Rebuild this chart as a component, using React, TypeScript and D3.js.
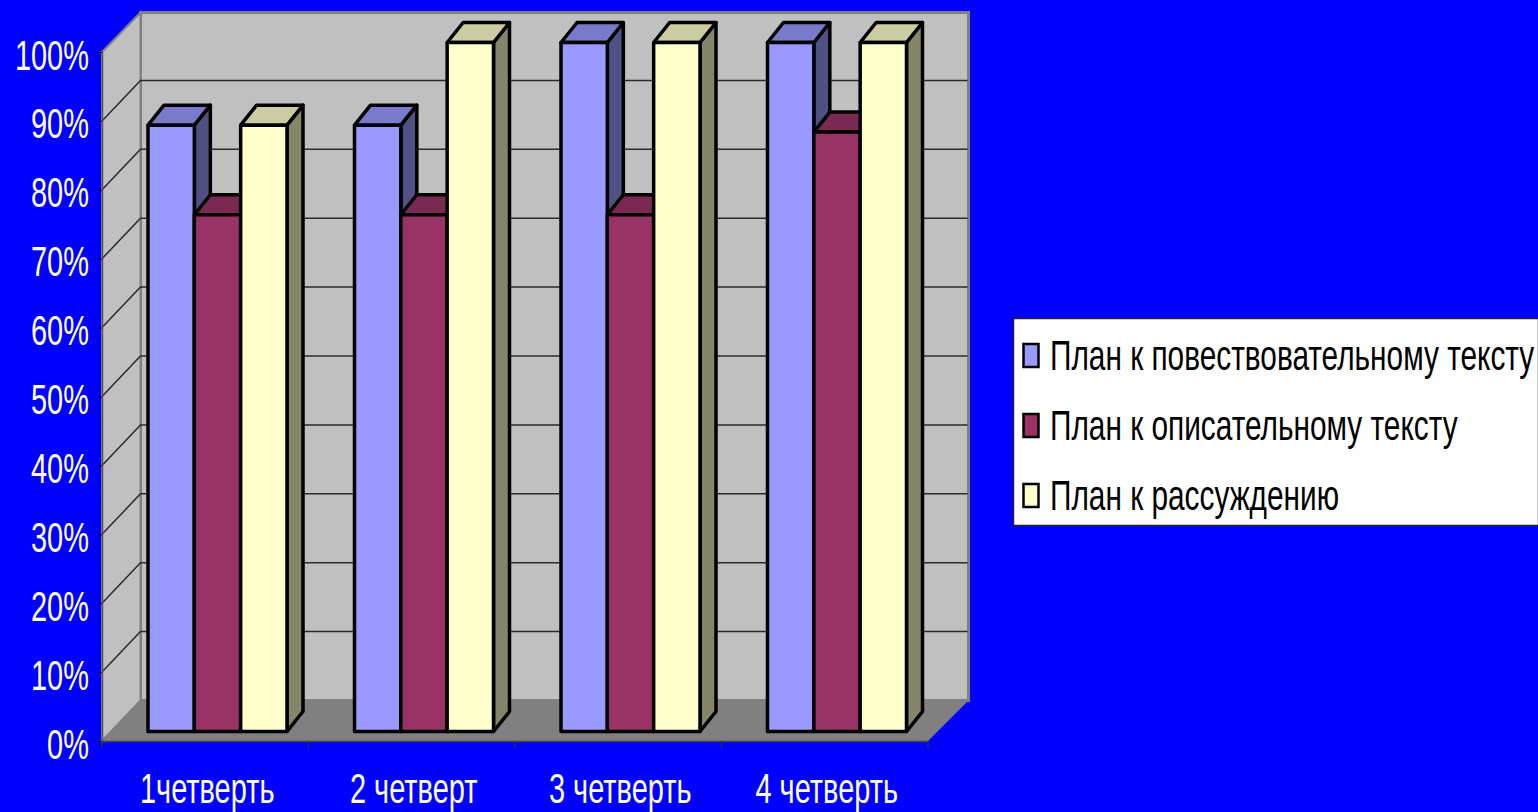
import { useEffect, useRef } from 'react';
import * as d3 from 'd3';

const categories = ['1четверть', '2 четверт', '3 четверть', '4 четверть'];
const seriesNames = [
  'План к повествовательному тексту',
  'План к описательному тексту',
  'План к рассуждению',
];
const narrative = [88, 88, 100, 100];
const descriptive = [75, 75, 75, 87];
const reasoning = [88, 100, 100, 100];
const seriesValues = [narrative, descriptive, reasoning];
const seriesColors = ['#9999ff', '#993366', '#ffffcc'];
const yTicks = [0, 10, 20, 30, 40, 50, 60, 70, 80, 90, 100];

const width = 1538;
const height = 812;
const FONT = '"Liberation Sans", Arial, sans-serif';
const TEXT_SQUEEZE = 0.69;
const LEGEND_SQUEEZE = 0.71;

const shade = (color: string, k: number) => {
  const c = d3.rgb(color);
  return d3.rgb(c.r * k, c.g * k, c.b * k).formatHex();
};

export default function App() {
  const svgRef = useRef<SVGSVGElement>(null);

  useEffect(() => {
    if (!svgRef.current) return;
    const svg = d3.select(svgRef.current);
    svg.selectAll('*').remove();

    const left = 102;
    const right = 928;
    const wallDx = 38.5;
    const wallDy = -40.5;

    const yScale = d3.scaleLinear().domain([0, 100]).range([741, 52]);
    const xScale = d3.scaleBand().domain(categories).range([left, right]);
    const xInner = d3
      .scaleBand()
      .domain(seriesNames)
      .range([0, 139]);

    const y0 = yScale(0);
    const y100 = yScale(100);
    const poly = (pts: number[][]) => pts.map((p) => p.join(',')).join(' ');

    // walls and floor
    svg
      .append('polygon')
      .attr('points', poly([
        [left + wallDx, y100 + wallDy + 1],
        [right + wallDx + 2, y100 + wallDy + 1],
        [right + wallDx + 2, y0 + wallDy],
        [left + wallDx, y0 + wallDy],
      ]))
      .attr('fill', '#c0c0c0')
      .attr('stroke', '#808080')
      .attr('stroke-width', 3);

    svg
      .append('polygon')
      .attr('points', poly([
        [left, y100],
        [left + wallDx, y100 + wallDy + 1],
        [left + wallDx, y0 + wallDy],
        [left, y0],
      ]))
      .attr('fill', '#c0c0c0')
      .attr('stroke', '#808080')
      .attr('stroke-width', 2);

    svg
      .append('polygon')
      .attr('points', poly([
        [left, y0],
        [right, y0],
        [right + wallDx + 2, y0 + wallDy],
        [left + wallDx, y0 + wallDy],
      ]))
      .attr('fill', '#808080');

    // grid lines over both walls
    const grid = yTicks.filter((t) => t > 0 && t < 100);
    svg
      .append('g')
      .selectAll('polyline')
      .data(grid)
      .enter()
      .append('polyline')
      .attr('points', (d) =>
        poly([
          [left, yScale(d)],
          [left + wallDx, yScale(d) + wallDy],
          [right + wallDx + 1, yScale(d) + wallDy],
        ]),
      )
      .attr('fill', 'none')
      .attr('stroke', '#2b2b2b')
      .attr('stroke-width', 1.5);

    // axes
    const yAxis = svg
      .append('g')
      .attr('transform', `translate(${left}, 0)`)
      .call(
        d3
          .axisLeft(yScale)
          .tickValues(yTicks)
          .tickSize(4)
          .tickFormat((d) => `${d}%`),
      );
    yAxis.select('.domain').attr('stroke', '#555').attr('stroke-width', 1.5);
    yAxis
      .selectAll('text')
      .attr('x', -13 / TEXT_SQUEEZE)
      .attr('dy', 17)
      .attr('transform', `scale(${TEXT_SQUEEZE}, 1)`)
      .attr('fill', '#fff')
      .attr('font-family', FONT)
      .attr('font-size', 42);

    const xAxis = svg
      .append('g')
      .attr('transform', `translate(0, ${y0})`)
      .call(d3.axisBottom(xScale).tickSize(0));
    xAxis.select('.domain').attr('stroke', '#444').attr('stroke-width', 1.5);
    xAxis
      .selectAll('text')
      .attr('y', 62)
      .attr('dy', 0)
      .attr('transform', `scale(${TEXT_SQUEEZE}, 1)`)
      .attr('fill', '#fff')
      .attr('font-family', FONT)
      .attr('font-size', 42);
    xAxis.selectAll('.tick').each(function (d) {
      const x = (xScale(d as string) ?? 0) + xScale.bandwidth() / 2;
      d3.select(this).attr('transform', `translate(0, 0)`);
      d3.select(this).select('text').attr('x', (x + 2) / TEXT_SQUEEZE);
    });
    xAxis
      .selectAll('line.edge')
      .data([...categories.map((c) => xScale(c) as number), right])
      .enter()
      .append('line')
      .attr('class', 'edge')
      .attr('x1', (d) => d)
      .attr('x2', (d) => d)
      .attr('y1', 0)
      .attr('y2', 7)
      .attr('stroke', '#333')
      .attr('stroke-width', 1.2);

    // bars, drawn left to right so each hides the side of the one before
    const barShiftX = 46;
    const barShiftY = -9.5;
    const depthX = 16;
    const depthY = -20;
    const barW = xInner.bandwidth();
    const barsLayer = svg
      .append('g')
      .attr('stroke', '#000')
      .attr('stroke-width', 3.5)
      .attr('stroke-linejoin', 'round');

    categories.forEach((cat, ci) => {
      seriesNames.forEach((name, si) => {
        const value = seriesValues[si][ci];
        const x = (xScale(cat) as number) + barShiftX + (xInner(name) as number);
        const top = yScale(value) + barShiftY;
        const bottom = y0 + barShiftY;
        // side face
        barsLayer
          .append('polygon')
          .attr('points', poly([
            [x + barW, top],
            [x + barW + depthX, top + depthY],
            [x + barW + depthX, bottom + depthY],
            [x + barW, bottom],
          ]))
          .attr('fill', shade(seriesColors[si], 0.52));
        // top face
        barsLayer
          .append('polygon')
          .attr('points', poly([
            [x, top],
            [x + depthX, top + depthY],
            [x + barW + depthX, top + depthY],
            [x + barW, top],
          ]))
          .attr('fill', shade(seriesColors[si], 0.8));
        // front face
        barsLayer
          .append('rect')
          .attr('x', x)
          .attr('y', top)
          .attr('width', barW)
          .attr('height', bottom - top)
          .attr('fill', seriesColors[si]);
      });
    });

    // legend
    const legend = svg.append('g').attr('transform', 'translate(1013.5, 318.5)');
    legend
      .append('rect')
      .attr('width', width - 1013)
      .attr('height', 207)
      .attr('fill', '#fff')
      .attr('stroke', '#222')
      .attr('stroke-width', 1.5);
    const legendRow = d3
      .scalePoint()
      .domain(seriesNames)
      .range([37, 177]);
    seriesNames.forEach((name, i) => {
      const cy = legendRow(name) as number;
      legend
        .append('rect')
        .attr('x', 10)
        .attr('y', cy - 11.5)
        .attr('width', 15)
        .attr('height', 23)
        .attr('fill', seriesColors[i])
        .attr('stroke', '#000')
        .attr('stroke-width', 2.5);
      legend
        .append('text')
        .attr('x', 36.5 / LEGEND_SQUEEZE)
        .attr('y', cy + 15)
        .attr('transform', `scale(${LEGEND_SQUEEZE}, 1)`)
        .attr('fill', '#000')
        .attr('font-family', FONT)
        .attr('font-size', 42)
        .text(name);
    });
  }, []);

  return (
    <svg
      ref={svgRef}
      width={width}
      height={height}
      style={{ position: 'absolute', left: 0, top: 0, background: '#0000ff' }}
    ></svg>
  );
}
